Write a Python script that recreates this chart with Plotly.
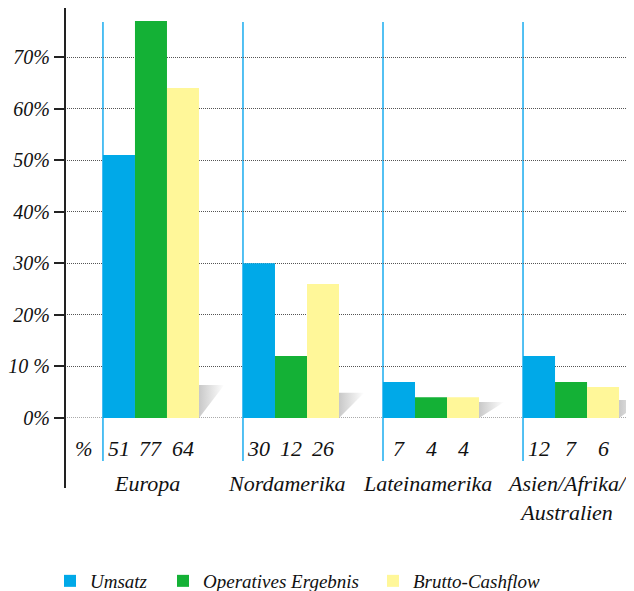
import plotly.graph_objects as go

categories = ["Europa", "Nordamerika", "Lateinamerika", "Asien/Afrika/<br>Australien"]
series_names = ["Umsatz", "Operatives Ergebnis", "Brutto-Cashflow"]
umsatz = [51, 30, 7, 12]
operatives = [77, 12, 4, 7]
cashflow = [64, 26, 4, 6]
shadow_heights = [6.4, 4.9, 3.1, 3.5]
y_tickvals = [0, 10, 20, 30, 40, 50, 60, 70]
y_ticktext = ["0%", "10 %", "20%", "30%", "40%", "50%", "60%", "70%"]

colors = ["#00A9E8", "#14B136", "#FFF799"]
FONT = "'Liberation Serif', 'Times New Roman', 'DejaVu Serif', serif"
series = [umsatz, operatives, cashflow]
legend_ids = ["legend", "legend2", "legend3"]

# page body has an 8px margin; figure is drawn 8px in from the window edge
OFF = 8
W, H = 634 - OFF, 591 - OFF
legend_x_px = [50 - OFF, 163 - OFF, 373 - OFF]
legend_y_px = 581 - OFF

x_idx = list(range(len(categories)))
bar_w = 0.2286
group_w = 3 * bar_w

fig = go.Figure()

for i, h in enumerate(shadow_heights):
    x0 = i + group_w / 2
    x1 = x0 + 0.18
    fig.add_trace(go.Scatter(
        x=[x0, x1, x0, x0], y=[h, h, 0, h], mode="lines", fill="toself",
        line=dict(width=0), showlegend=False, hoverinfo="skip",
        fillgradient=dict(type="horizontal",
                          colorscale=[[0, "#c8c8c8"], [1, "#ffffff"]]),
    ))

for name, vals, col, lid in zip(series_names, series, colors, legend_ids):
    fig.add_trace(go.Bar(x=x_idx, y=vals, name=name, legend=lid,
                         marker=dict(color=col, line=dict(width=0))))

shapes = []
shapes.append(dict(type="line", xref="paper", yref="paper", x0=0, x1=0, y0=-0.175, y1=1.025,
                   line=dict(color="#222222", width=2)))
for i in x_idx:
    xl = i - group_w / 2
    shapes.append(dict(type="line", xref="x", yref="paper", x0=xl, x1=xl, y0=-0.1075, y1=0.99,
                       line=dict(color="#1AACEF", width=1.5), layer="below"))
shapes.append(dict(type="line", xref="paper", yref="y", x0=0, x1=1, y0=0, y1=0,
                   line=dict(color="#555555", width=1, dash="1px,1px"), layer="below"))

annotations = []
annotations.append(dict(x=-0.475, y=-0.1125, xref="x", yref="paper", text="%", showarrow=False,
                        font=dict(family=FONT, size=21, color="#111111", style="italic")))
for i in x_idx:
    for k, vals in enumerate(series):
        annotations.append(dict(x=i + (k - 1) * bar_w, y=-0.1125, xref="x", yref="paper",
                                text=str(vals[i]), showarrow=False,
                                font=dict(family=FONT, size=22, color="#111111", style="italic")))
    annotations.append(dict(x=i, y=-0.128, xref="x", yref="paper", yanchor="top",
                            text=categories[i], showarrow=False, xshift=-4,
                            font=dict(family=FONT, size=22, color="#111111", style="italic")))

legend_common = dict(orientation="h", xref="container", yref="container",
                     y=1 - legend_y_px / H, xanchor="left", yanchor="middle",
                     font=dict(family=FONT, size=19, color="#111111", style="italic"),
                     bgcolor="rgba(0,0,0,0)")
legends = {}
for lid, px in zip(legend_ids, legend_x_px):
    legends[lid] = dict(legend_common, x=px / W)

fig.update_layout(
    width=W, height=H,
    margin=dict(l=65 - OFF, r=5, t=18 - OFF, b=173),
    plot_bgcolor="white", paper_bgcolor="white",
    barmode="group", bargap=1 - group_w, bargroupgap=0,
    shapes=shapes, annotations=annotations,
    showlegend=True,
    xaxis=dict(range=[-0.614, 3.414], showticklabels=False, showgrid=False, zeroline=False,
               showline=False, ticks="", automargin=False),
    yaxis=dict(range=[0, 77.57], tickvals=y_tickvals, ticktext=y_ticktext, automargin=False,
               showgrid=True, gridcolor="#555555", griddash="1px,1px", gridwidth=1,
               zeroline=False, showline=False, ticks="outside", ticklen=10, tickwidth=2,
               tickcolor="#222222", ticklabelstandoff=0,
               tickfont=dict(family=FONT, size=20, color="#111111", style="italic")),
    **legends,
)

fig.write_html("out.html")
